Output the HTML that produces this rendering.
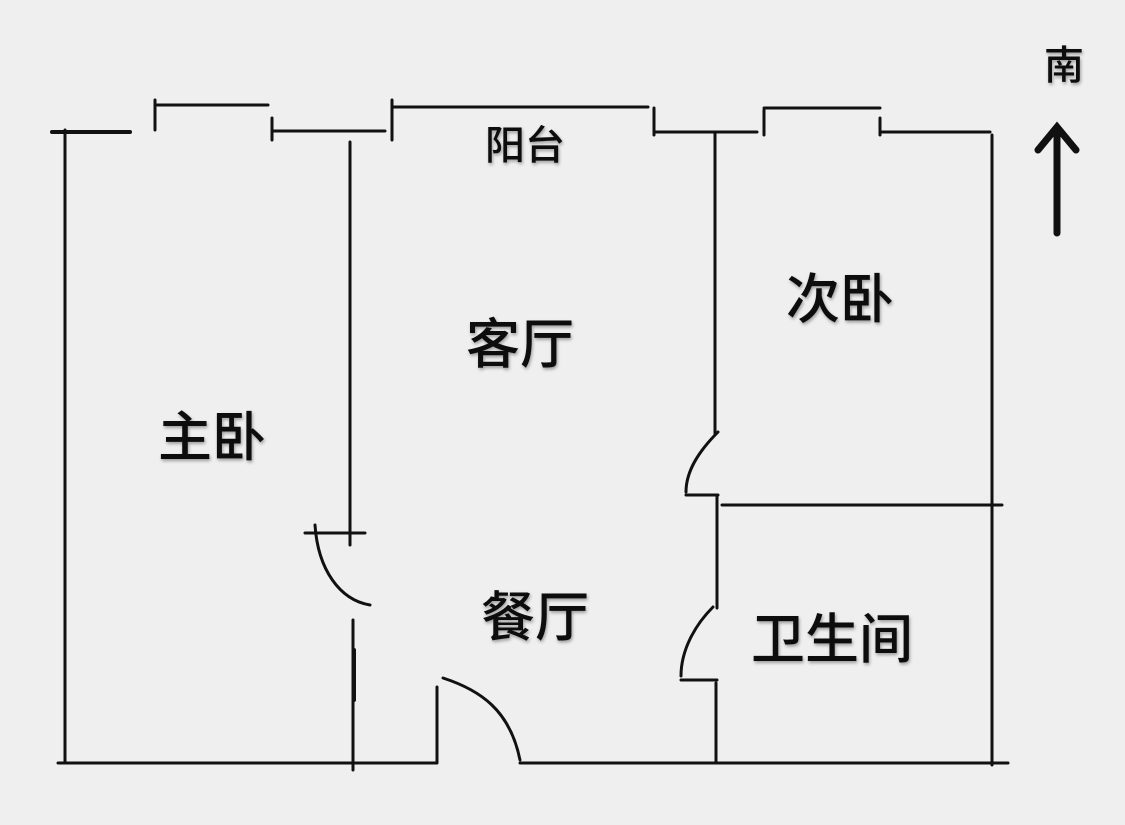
<!DOCTYPE html>
<html><head><meta charset="utf-8"><style>
html,body{margin:0;padding:0;background:#efefef;}
svg{display:block}
text{font-family:"Liberation Sans","Noto Sans CJK SC",sans-serif;fill:#111;text-anchor:middle;dominant-baseline:central;font-weight:500}
</style></head><body>
<svg width="1125" height="825" viewBox="0 0 1125 825">
<defs><filter id="sh" x="-20%" y="-20%" width="140%" height="140%"><feDropShadow dx="1" dy="2" stdDeviation="1.5" flood-color="#000" flood-opacity="0.35"/></filter></defs>
<rect width="1125" height="825" fill="#efefef"/>
<g stroke="#111" stroke-width="3" fill="none" stroke-linecap="round">
<path d="M52 132H130" stroke-width="4"/>
<path d="M155 100V130M155 105H268M272 118V140M272 131H385M392 100V140M392 107H648M654 108V135M654 132H757M764 110V135M764 108H880M880 118V135M880 132H990"/>
<path d="M65 130V763"/>
<path d="M350 142V545M305 533H365"/>
<path d="M315 525C318 570 340 600 370 605"/>
<path d="M353 620V770"/><path d="M354 650V700" stroke-width="4"/>
<path d="M58 763H437M437 687V763M443 678C480 690 510 710 520 760M520 763H1008"/>
<path d="M715 132V435M718 432C700 450 686 470 686 492M686 495H718M717 495V608M713 607C695 625 681 650 681 676M681 680H717M716 683V763"/>
<path d="M722 505H1002"/>
<path d="M992 135V765"/>
<path d="M1057 130V233M1038 150L1057 127L1076 150" stroke-width="7"/>
</g>
<g filter="url(#sh)">
<text x="1064" y="66" font-size="40">南</text>
<text x="525" y="146" font-size="40">阳台</text>
<text x="520" y="345" font-size="54">客厅</text>
<text x="840" y="300" font-size="54">次卧</text>
<text x="212" y="438" font-size="54">主卧</text>
<text x="535" y="618" font-size="54">餐厅</text>
<text x="832" y="640" font-size="54">卫生间</text>
</g>
</svg>
</body></html>
